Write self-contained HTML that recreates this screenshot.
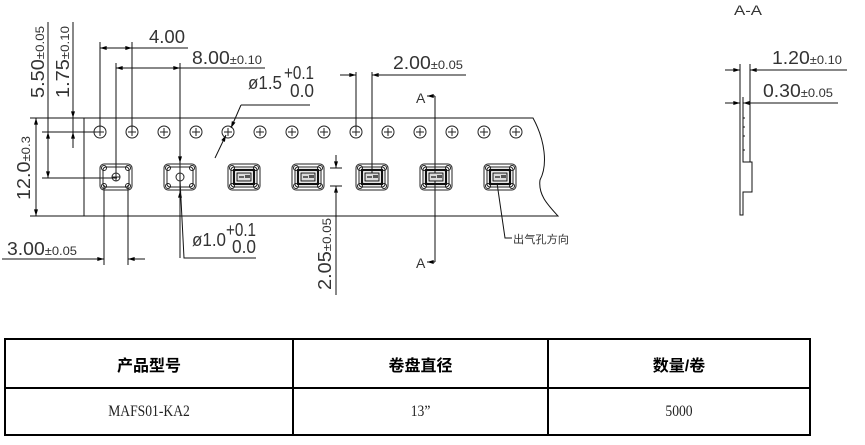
<!DOCTYPE html>
<html><head><meta charset="utf-8"><style>
html,body{margin:0;padding:0;background:#fff;}
body{width:865px;height:445px;overflow:hidden;position:relative;}
svg{position:absolute;left:0;top:0;}
text{font-family:"Liberation Sans","Noto Sans CJK SC",sans-serif;fill:#333;}
table{position:absolute;left:4px;top:338px;width:807px;height:98px;border-collapse:collapse;}
td{border:2px solid #000;text-align:center;padding:0;}
.h td{font-family:"Liberation Sans","Noto Sans CJK SC",sans-serif;font-weight:bold;font-size:16px;height:47px;}
.r td{font-family:"Liberation Serif","Noto Serif CJK SC",serif;font-size:16px;color:#222;}
.r span{display:inline-block;transform:scaleX(0.85);}
</style></head><body>
<svg width="865" height="445" viewBox="0 0 865 445" xmlns="http://www.w3.org/2000/svg">
<defs>
<marker id="a" viewBox="0 0 10 6" refX="10" refY="3" markerWidth="8" markerHeight="4" orient="auto-start-reverse" markerUnits="userSpaceOnUse"><path d="M0,0L10,3L0,6z" fill="#000"/></marker>
<g id="h"><circle r="6" fill="none" stroke="#222" stroke-width="1"/><path d="M-4,0H4M0,-4V4" stroke="#222" stroke-width="1"/></g>
<g id="pk">
<path d="M-12,-13H12A4,4 0 0 1 16,-9V9A4,4 0 0 1 12,13H-12A4,4 0 0 1 -16,9V-9A4,4 0 0 1 -12,-13Z" fill="none" stroke="#222" stroke-width="1"/>
<path d="M-10,-10H10A3,3 0 0 1 13,-7V7A3,3 0 0 1 10,10H-10A3,3 0 0 1 -13,7V-7A3,3 0 0 1 -10,-10Z" fill="none" stroke="#222" stroke-width="1"/>
<circle cx="-12" cy="-9" r="2.5" fill="none" stroke="#222"/><circle cx="12" cy="-9" r="2.5" fill="none" stroke="#222"/>
<circle cx="-12" cy="9" r="2.5" fill="none" stroke="#222"/><circle cx="12" cy="9" r="2.5" fill="none" stroke="#222"/>
</g>
<g id="chip"><rect x="-10" y="-7" width="20" height="14" fill="none" stroke="#111" stroke-width="2.2"/><rect x="-7" y="-4" width="14" height="8" fill="#ddd" stroke="#111" stroke-width="1"/><path d="M-5,0H0" stroke="#111" stroke-width="1.2"/><rect x="1" y="-2" width="5" height="3" fill="#555"/></g>
</defs>
<g stroke="#111" stroke-width="1" fill="none">
<path d="M30,118H533C545,140 548,165 540,180C538,195 548,205 558,216H30"/>
<path d="M84,118V216"/>
<path d="M36,118V216" marker-start="url(#a)" marker-end="url(#a)"/>
<path d="M48,22V178"/><path d="M73,22V148"/>
<path d="M73,100V118" marker-end="url(#a)"/>
<path d="M48,150V178" marker-end="url(#a)"/>
<path d="M48,150V132" marker-end="url(#a)"/>
<path d="M73,148V132" marker-end="url(#a)"/>
<path d="M42,132H100"/><path d="M42,178H117"/>
<path d="M100,42V132"/><path d="M132,42V132"/>
<path d="M100,48H132" marker-start="url(#a)" marker-end="url(#a)"/><path d="M132,48H188"/>
<path d="M116,63V178"/><path d="M180,63V258"/>
<path d="M116,68H180" marker-start="url(#a)" marker-end="url(#a)"/><path d="M180,68H265"/>
<path d="M215,158L226,135" marker-end="url(#a)"/><path d="M241,105L231,128" marker-end="url(#a)"/>
<path d="M241,105H310"/>
<path d="M180,150V163" marker-end="url(#a)"/><path d="M180,204V191" marker-end="url(#a)"/>
<path d="M180,180L184,258H256"/>
<path d="M104,185V265"/><path d="M128,185V265"/>
<path d="M2,259H104" marker-end="url(#a)"/><path d="M145,259H128" marker-end="url(#a)"/>
<path d="M356,72V132"/><path d="M372,72V180"/>
<path d="M340,75H356" marker-end="url(#a)"/><path d="M388,75H372" marker-end="url(#a)"/><path d="M372,75H466"/>
<path d="M435,96V262"/><path d="M435,96H427" marker-end="url(#a)"/><path d="M435,262H427" marker-end="url(#a)"/>
<path d="M330,168H342"/><path d="M330,186H342"/>
<path d="M336,155V168" marker-end="url(#a)"/><path d="M336,198V186" marker-end="url(#a)"/><path d="M336,186V295"/>
<path d="M497,183L505,238H512"/>
<path d="M740,64V215H743V192H752V162H743V97"/><path d="M750,64V162"/>
<path d="M725,70H740" marker-end="url(#a)"/><path d="M765,70H750" marker-end="url(#a)"/><path d="M750,70H847"/>
<path d="M725,103H740" marker-end="url(#a)"/><path d="M758,103H743" marker-end="url(#a)"/><path d="M743,103H838"/>
<path d="M743,118H745M743,127H745M743,136H745M743,150H745"/>
</g>
<g>
<use href="#h" x="100" y="132"/><use href="#h" x="132" y="132"/><use href="#h" x="164" y="132"/><use href="#h" x="196" y="132"/>
<use href="#h" x="228" y="132"/><use href="#h" x="260" y="132"/><use href="#h" x="292" y="132"/><use href="#h" x="324" y="132"/>
<use href="#h" x="356" y="132"/><use href="#h" x="388" y="132"/><use href="#h" x="420" y="132"/><use href="#h" x="452" y="132"/>
<use href="#h" x="484" y="132"/><use href="#h" x="516" y="132"/>
<use href="#pk" x="116" y="177"/><use href="#pk" x="180" y="177"/><use href="#pk" x="244" y="177"/><use href="#pk" x="308" y="177"/>
<use href="#pk" x="372" y="177"/><use href="#pk" x="436" y="177"/><use href="#pk" x="500" y="177"/>
<circle cx="116" cy="177" r="4" fill="none" stroke="#222"/><path d="M112,177H120M116,173V181" stroke="#222"/>
<circle cx="180" cy="177" r="4" fill="none" stroke="#222"/>
<use href="#chip" x="244" y="177"/><use href="#chip" x="308" y="177"/><use href="#chip" x="372" y="177"/><use href="#chip" x="436" y="177"/><use href="#chip" x="500" y="177"/>
</g>
<g font-size="18">
<text transform="translate(44,98) rotate(-90)" textLength="72" lengthAdjust="spacingAndGlyphs">5.50<tspan font-size="12">±0.05</tspan></text>
<text transform="translate(69,98) rotate(-90)" textLength="72" lengthAdjust="spacingAndGlyphs">1.75<tspan font-size="12">±0.10</tspan></text>
<text transform="translate(30,200) rotate(-90)" textLength="64" lengthAdjust="spacingAndGlyphs">12.0<tspan font-size="12">±0.3</tspan></text>
<text x="149" y="43" textLength="36" lengthAdjust="spacingAndGlyphs">4.00</text>
<text x="192" y="64" textLength="70" lengthAdjust="spacingAndGlyphs">8.00<tspan font-size="12">±0.10</tspan></text>
<text x="248" y="89" textLength="34" lengthAdjust="spacingAndGlyphs">ø1.5</text>
<text x="284" y="79" textLength="30" lengthAdjust="spacingAndGlyphs">+0.1</text>
<text x="290" y="97" textLength="24" lengthAdjust="spacingAndGlyphs">0.0</text>
<text x="192" y="246" textLength="34" lengthAdjust="spacingAndGlyphs">ø1.0</text>
<text x="226" y="236" textLength="30" lengthAdjust="spacingAndGlyphs">+0.1</text>
<text x="232" y="253" textLength="24" lengthAdjust="spacingAndGlyphs">0.0</text>
<text x="7" y="255" textLength="70" lengthAdjust="spacingAndGlyphs">3.00<tspan font-size="12">±0.05</tspan></text>
<text x="393" y="69" textLength="70" lengthAdjust="spacingAndGlyphs">2.00<tspan font-size="12">±0.05</tspan></text>
<text transform="translate(331,290) rotate(-90)" textLength="72" lengthAdjust="spacingAndGlyphs">2.05<tspan font-size="12">±0.05</tspan></text>
<text x="416" y="103" font-size="14">A</text>
<text x="416" y="268" font-size="14">A</text>
<text x="734" y="15" font-size="14" textLength="28" lengthAdjust="spacingAndGlyphs">A-A</text>
<text x="772" y="64" textLength="70" lengthAdjust="spacingAndGlyphs">1.20<tspan font-size="12">±0.10</tspan></text>
<text x="763" y="97" textLength="70" lengthAdjust="spacingAndGlyphs">0.30<tspan font-size="12">±0.05</tspan></text>
<text x="513" y="243" font-size="11" textLength="56" lengthAdjust="spacingAndGlyphs">出气孔方向</text>
</g>
</svg>
<table>
<tr class="h"><td style="width:286px">产品型号</td><td style="width:253px">卷盘直径</td><td>数量/卷</td></tr>
<tr class="r"><td><span>MAFS01-KA2</span></td><td><span>13”</span></td><td><span>5000</span></td></tr>
</table>
</body></html>
